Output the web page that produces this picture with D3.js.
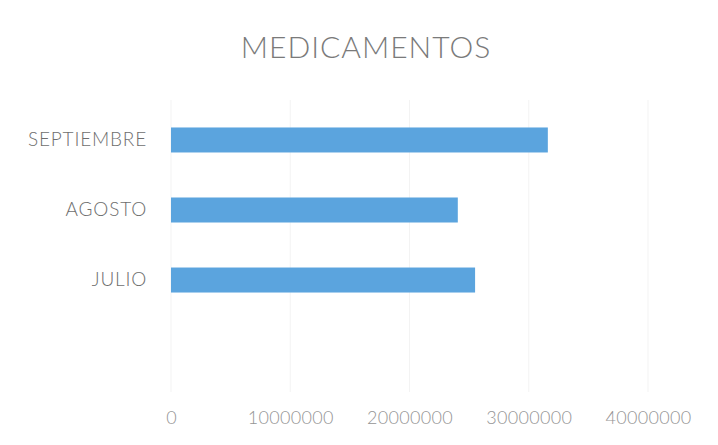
<!DOCTYPE html>
<html>
<head>
<meta charset="utf-8">
<script src="https://cdn.jsdelivr.net/npm/d3@7"></script>
<style>
  html, body { margin: 0; padding: 0; background: #ffffff; }
  svg { display: block; }
</style>
</head>
<body>
<svg id="chart" width="718" height="445"></svg>
<script>
const title = "MEDICAMENTOS";
const categories = ["SEPTIEMBRE", "AGOSTO", "JULIO"];
const values = [31600000, 24050000, 25500000];
const tickValues = [0, 10000000, 20000000, 30000000, 40000000];

const svg = d3.select("#chart");
const W = 718, H = 445;
const font = "Lato, 'Open Sans', sans-serif";

svg.append("rect").attr("width", W).attr("height", H).attr("fill", "#ffffff");

const x = d3.scaleLinear().domain([0, 40000000]).range([171, 648]);
const y = d3.scaleBand().domain(categories).range([105, 315])
  .paddingInner(0.643).paddingOuter(0.321);

// gridlines
svg.append("g").selectAll("line").data(tickValues).join("line")
  .attr("x1", d => x(d)).attr("x2", d => x(d))
  .attr("y1", 100).attr("y2", 392)
  .attr("stroke", "#f3f3f3").attr("stroke-width", 1);

// bars
svg.append("g").selectAll("rect").data(categories).join("rect")
  .attr("x", x(0))
  .attr("y", d => y(d))
  .attr("width", (d, i) => x(values[i]) - x(0))
  .attr("height", y.bandwidth())
  .attr("fill", "#5BA4DE");

// y axis labels
const yAxis = svg.append("g").attr("transform", "translate(171,0)")
  .call(d3.axisLeft(y).tickSize(0).tickPadding(24));
yAxis.select(".domain").remove();
yAxis.selectAll("text")
  .attr("font-family", font).attr("font-size", 19).attr("font-weight", 300)
  .attr("letter-spacing", 0.8)
  .attr("fill", "#6e6e6e");

// x axis labels
const xAxis = svg.append("g").attr("transform", "translate(0,401)")
  .call(d3.axisBottom(x).tickValues(tickValues).tickFormat(d3.format("d")).tickSize(0).tickPadding(10));
xAxis.select(".domain").remove();
xAxis.selectAll("text")
  .attr("font-family", font).attr("font-size", 18).attr("font-weight", 300)
  .attr("letter-spacing", 0.3)
  .attr("fill", "#959595");

// title
svg.append("text")
  .attr("x", 366).attr("y", 58)
  .attr("text-anchor", "middle")
  .attr("font-family", font).attr("font-size", 30).attr("font-weight", 300)
  .attr("letter-spacing", 1)
  .attr("fill", "#7a7a7a")
  .text(title);
</script>
</body>
</html>
